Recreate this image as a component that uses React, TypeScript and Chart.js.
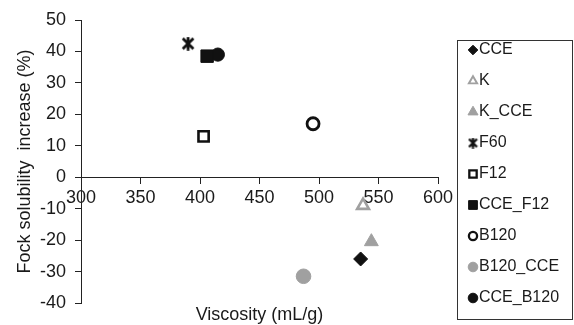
import React, { useEffect, useRef } from 'react';
import { Chart, registerables } from 'chart.js';
import { drawPoint } from 'chart.js/helpers';

Chart.register(...registerables);

// ---- data ----
const seriesNames = ['CCE', 'K', 'K_CCE', 'F60', 'F12', 'CCE_F12', 'B120', 'B120_CCE', 'CCE_B120'];
const viscosity = [535, 537, 544, 390, 403, 406, 495, 487, 415];
const solubilityIncrease = [-26, -9, -20.5, 42.5, 13, 38.5, 17, -31.5, 39];
const xTickValues = [300, 350, 400, 450, 500, 550, 600];
const yTickValues = [-40, -30, -20, -10, 0, 10, 20, 30, 40, 50];
const xTitle = 'Viscosity (mL/g)';
const yTitle = 'Fock solubility  increase (%)';

const FONT = '"Liberation Sans", Arial, sans-serif';
const BLACK = '#111111';
const GRAY = '#a0a0a0';

function makeStar(size: number, lw: number): HTMLCanvasElement {
  const c = document.createElement('canvas');
  c.width = size;
  c.height = size;
  const g = c.getContext('2d')!;
  g.strokeStyle = BLACK;
  g.lineWidth = lw;
  const m = lw / 2 + 0.3;
  g.beginPath();
  g.moveTo(m, m); g.lineTo(size - m, size - m);
  g.moveTo(size - m, m); g.lineTo(m, size - m);
  g.moveTo(size / 2, 0.3); g.lineTo(size / 2, size - 0.3);
  g.stroke();
  return c;
}

type Sty = { style: any; color: string; filled: boolean; r: number; bw: number; lr: number; lbw: number };

export default function App() {
  const ref = useRef<HTMLCanvasElement>(null);
  useEffect(() => {
    document.body.style.margin = '0';
    const starBig = makeStar(14, 2.8);
    const starSmall = makeStar(11, 2.4);
    const styles: Sty[] = [
      { style: 'rectRot', color: BLACK, filled: true, r: 7, bw: 1, lr: 4.8, lbw: 1 },
      { style: 'triangle', color: GRAY, filled: false, r: 6.8, bw: 2.6, lr: 4.8, lbw: 1.9 },
      { style: 'triangle', color: GRAY, filled: true, r: 8, bw: 1, lr: 5.8, lbw: 1 },
      { style: starBig, color: BLACK, filled: false, r: 7, bw: 0, lr: 5, lbw: 0 },
      { style: 'rect', color: BLACK, filled: false, r: 7.2, bw: 2.6, lr: 5.2, lbw: 2.3 },
      { style: 'rect', color: BLACK, filled: true, r: 8.8, bw: 1, lr: 6.2, lbw: 1 },
      { style: 'circle', color: BLACK, filled: false, r: 6, bw: 2.8, lr: 4.1, lbw: 2.3 },
      { style: 'circle', color: GRAY, filled: true, r: 7.3, bw: 1, lr: 4.8, lbw: 1 },
      { style: 'circle', color: BLACK, filled: true, r: 6.6, bw: 1, lr: 4.8, lbw: 1 },
    ];

    const datasets = seriesNames.map((name, i) => ({
      label: name,
      data: [{ x: viscosity[i], y: solubilityIncrease[i] }],
      pointStyle: styles[i].style,
      pointRadius: styles[i].r,
      pointBorderWidth: styles[i].bw,
      pointBackgroundColor: styles[i].filled ? styles[i].color : 'rgba(0,0,0,0)',
      pointBorderColor: styles[i].color,
      showLine: false,
    }));

    const overlay = {
      id: 'overlay',
      afterDraw(chart: any) {
        const { ctx, chartArea } = chart;
        ctx.save();
        ctx.fillStyle = '#1a1a1a';
        ctx.font = `18px ${FONT}`;
        ctx.textAlign = 'center';
        ctx.textBaseline = 'middle';
        ctx.fillText(xTitle, (chartArea.left + chartArea.right) / 2, 315);
        ctx.save();
        ctx.translate(25, (chartArea.top + chartArea.bottom) / 2);
        ctx.rotate(-Math.PI / 2);
        ctx.fillText(yTitle, 0, 0);
        ctx.restore();

        // legend box
        ctx.strokeStyle = '#333333';
        ctx.lineWidth = 1;
        ctx.strokeRect(457.5, 40.5, 115, 279);
        ctx.font = `16px ${FONT}`;
        ctx.textAlign = 'left';
        seriesNames.forEach((name, i) => {
          const y = 50 + i * 31;
          const s = styles[i];
          ctx.save();
          ctx.fillStyle = s.filled ? s.color : 'rgba(0,0,0,0)';
          ctx.strokeStyle = s.color;
          ctx.lineWidth = s.lbw;
          drawPoint(ctx, {
            pointStyle: i === 3 ? starSmall : s.style,
            rotation: 0,
            radius: s.lr,
            borderWidth: s.lbw,
          } as any, 473, y);
          ctx.restore();
          ctx.fillStyle = '#1a1a1a';
          ctx.fillText(name, 479, y);
        });
        ctx.restore();
      },
    };

    const chart = new Chart(ref.current!, {
      type: 'scatter',
      data: { datasets },
      plugins: [overlay],
      options: {
        animation: false,
        responsive: false,
        layout: { padding: { left: 0, top: 20, right: 136, bottom: 22 } },
        plugins: { legend: { display: false }, tooltip: { enabled: false } },
        scales: {
          x: {
            type: 'linear',
            min: 300,
            max: 600,
            position: { y: 0 } as any,
            afterBuildTicks: (s: any) => { s.ticks = xTickValues.map((v) => ({ value: v })); },
            ticks: { color: '#1a1a1a', font: { family: FONT, size: 18 }, padding: 4 },
            grid: { drawOnChartArea: false, drawTicks: true, tickLength: 6, color: '#222', lineWidth: 1 },
            border: { display: true, color: '#222', width: 1 },
          },
          y: {
            type: 'linear',
            min: -40,
            max: 50,
            position: 'left',
            afterBuildTicks: (s: any) => { s.ticks = yTickValues.map((v) => ({ value: v })); },
            afterFit: (s: any) => { s.width = 81; },
            ticks: { color: '#1a1a1a', font: { family: FONT, size: 18 }, padding: 9 },
            grid: { drawOnChartArea: false, drawTicks: true, tickLength: 6, color: '#222', lineWidth: 1 },
            border: { display: true, color: '#222', width: 1 },
          },
        },
      },
    });
    return () => chart.destroy();
  }, []);
  return (
    <div style={{ width: 574, height: 325, background: '#fff' }}>
      <canvas ref={ref} width={574} height={325} style={{ display: 'block' }} />
    </div>
  );
}
